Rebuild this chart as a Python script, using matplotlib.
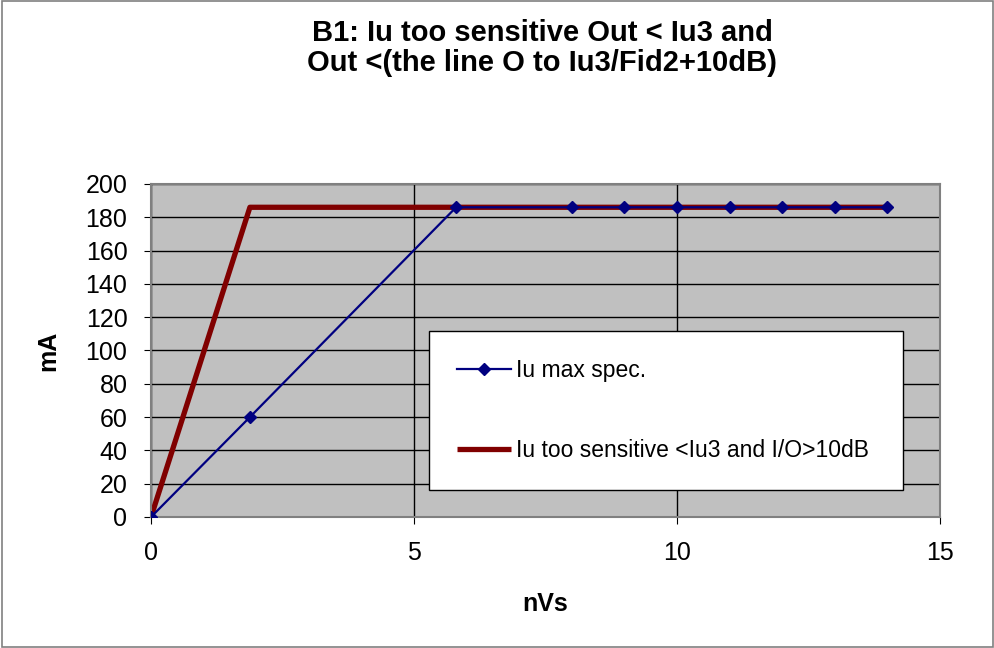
import matplotlib.pyplot as plt
from matplotlib.patches import Rectangle

# data
spec_x = [0, 1.88, 5.8, 8, 9, 10, 11, 12, 13, 14]
spec_y = [0, 60, 186, 186, 186, 186, 186, 186, 186, 186]
sens_x = [0, 1.88, 14]
sens_y = [0, 186, 186]

title = "B1: Iu too sensitive Out < Iu3 and\nOut <(the line O to Iu3/Fid2+10dB)"
x_ticks = [0, 5, 10, 15]
y_ticks = list(range(0, 201, 20))

plt.rcParams['font.family'] = ['Liberation Sans', 'DejaVu Sans']

fig = plt.figure(figsize=(9.95, 6.48), dpi=100)
fig.patches.append(Rectangle((0.002, 0.001), 0.996, 0.997, transform=fig.transFigure,
                             fill=False, edgecolor='#808080', linewidth=1.2))

ax = fig.add_axes([0.1518, 0.2022, 0.7929, 0.5139])
ax.set_facecolor('#C0C0C0')

ax.plot(spec_x, spec_y, color='#000080', linewidth=1.6, marker='D', markersize=6,
        label='Iu max spec.', zorder=3)
ax.plot(sens_x, sens_y, color='#800000', linewidth=3.8, solid_capstyle='butt',
        label='Iu too sensitive <Iu3 and I/O>10dB', zorder=2)

ax.set_xlim(0, 15)
ax.set_ylim(0, 200)
ax.set_xticks(x_ticks)
ax.set_yticks(y_ticks)
ax.tick_params(labelsize=18, length=5, color='black', pad=12)
ax.grid(True, color='black', linewidth=1, zorder=0)
ax.set_axisbelow(True)
for s in ax.spines.values():
    s.set_color('#808080')
    s.set_linewidth(1.5)

ax.set_xlabel('nVs', fontsize=18, fontweight='bold', labelpad=20)
ax.set_ylabel('mA', fontsize=18, fontweight='bold', labelpad=18)
fig.text(0.545, 0.926, title, ha='center', va='center', fontsize=21,
         fontweight='bold', linespacing=1.12)

leg = ax.legend(loc='upper left', bbox_to_anchor=(0.352, 0.559, 0.601, 0),
                mode='expand', fontsize=16.5, frameon=True, fancybox=False,
                borderpad=1.24, labelspacing=2.48, handlelength=2.35, handletextpad=0.2,
                borderaxespad=0)
leg.get_frame().set_edgecolor('black')
leg.get_frame().set_linewidth(1)
leg.get_frame().set_facecolor('white')
leg.get_frame().set_alpha(1)

fig.savefig('out.png', dpi=100)
